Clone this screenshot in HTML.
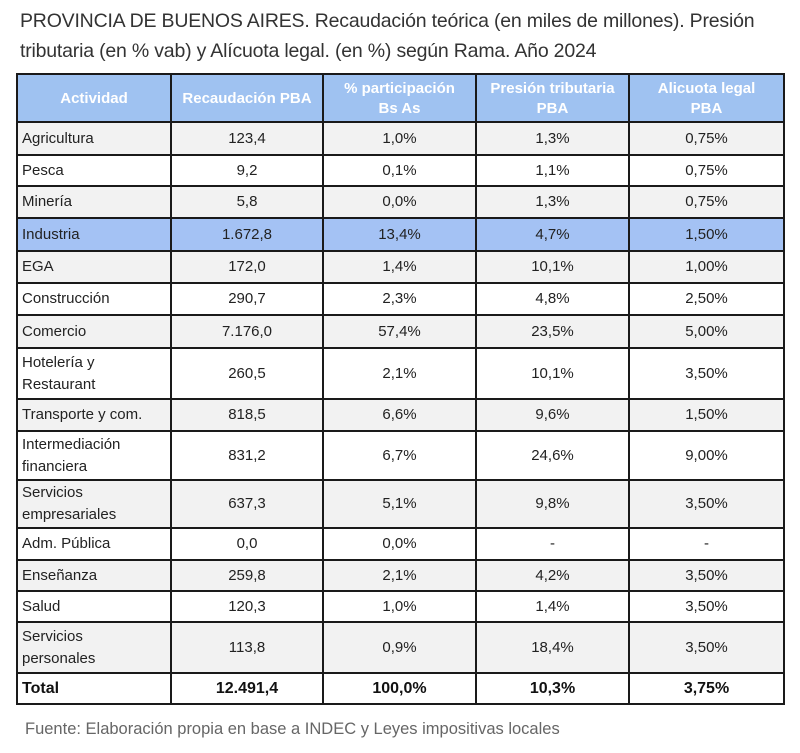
<!DOCTYPE html>
<html><head><meta charset="utf-8"><style>
body{margin:0;width:800px;height:753px;background:#fff;font-family:"Liberation Sans",sans-serif;position:relative;overflow:hidden}
#title{position:absolute;left:20px;top:6px;font-size:19.5px;line-height:30px;color:#333;letter-spacing:-0.2px}
table{position:absolute;left:16px;top:73px;border-collapse:collapse;table-layout:fixed;width:767px}
td,th{border:2px solid #1a1a1a;font-size:15px;color:#222;text-align:center;padding:0 4px;line-height:22px}
th{background:#9fc2f1;color:#fff;font-weight:bold;height:44px;padding:2px 4px 0;line-height:20px}
td.l{text-align:left;padding-left:4px}
tr.g td{background:#f2f2f2}
tr.b td{background:#a4c2f4}
tr.t td{font-weight:bold;font-size:16px;color:#111}
#src{position:absolute;left:25px;top:720px;font-size:16.5px;color:#666}
</style></head><body>
<div id="title">PROVINCIA DE BUENOS AIRES. Recaudación teórica (en miles de millones). Presión<br>tributaria (en % vab) y Alícuota legal. (en %) según Rama. Año 2024</div>
<table>
<colgroup><col style="width:154px"><col style="width:152px"><col style="width:153px"><col style="width:153px"><col style="width:155px"></colgroup>
<tr><th>Actividad</th><th>Recaudación PBA</th><th>% participación<br>Bs As</th><th>Presión tributaria<br>PBA</th><th>Alicuota legal<br>PBA</th></tr>
<tr class="g" style="height:33px"><td class="l">Agricultura</td><td>123,4</td><td>1,0%</td><td>1,3%</td><td>0,75%</td></tr>
<tr style="height:31px"><td class="l">Pesca</td><td>9,2</td><td>0,1%</td><td>1,1%</td><td>0,75%</td></tr>
<tr class="g" style="height:32px"><td class="l">Minería</td><td>5,8</td><td>0,0%</td><td>1,3%</td><td>0,75%</td></tr>
<tr class="b" style="height:33px"><td class="l">Industria</td><td>1.672,8</td><td>13,4%</td><td>4,7%</td><td>1,50%</td></tr>
<tr class="g" style="height:32px"><td class="l">EGA</td><td>172,0</td><td>1,4%</td><td>10,1%</td><td>1,00%</td></tr>
<tr style="height:32px"><td class="l">Construcción</td><td>290,7</td><td>2,3%</td><td>4,8%</td><td>2,50%</td></tr>
<tr class="g" style="height:33px"><td class="l">Comercio</td><td>7.176,0</td><td>57,4%</td><td>23,5%</td><td>5,00%</td></tr>
<tr style="height:51px"><td class="l">Hotelería y<br>Restaurant</td><td>260,5</td><td>2,1%</td><td>10,1%</td><td>3,50%</td></tr>
<tr class="g" style="height:32px"><td class="l">Transporte y com.</td><td>818,5</td><td>6,6%</td><td>9,6%</td><td>1,50%</td></tr>
<tr style="height:49px"><td class="l">Intermediación<br>financiera</td><td>831,2</td><td>6,7%</td><td>24,6%</td><td>9,00%</td></tr>
<tr class="g" style="height:48px"><td class="l">Servicios<br>empresariales</td><td>637,3</td><td>5,1%</td><td>9,8%</td><td>3,50%</td></tr>
<tr style="height:32px"><td class="l">Adm. Pública</td><td>0,0</td><td>0,0%</td><td>-</td><td>-</td></tr>
<tr class="g" style="height:31px"><td class="l">Enseñanza</td><td>259,8</td><td>2,1%</td><td>4,2%</td><td>3,50%</td></tr>
<tr style="height:31px"><td class="l">Salud</td><td>120,3</td><td>1,0%</td><td>1,4%</td><td>3,50%</td></tr>
<tr class="g" style="height:51px"><td class="l">Servicios<br>personales</td><td>113,8</td><td>0,9%</td><td>18,4%</td><td>3,50%</td></tr>
<tr class="t" style="height:31px"><td class="l">Total</td><td>12.491,4</td><td>100,0%</td><td>10,3%</td><td>3,75%</td></tr>
</table>
<div id="src">Fuente: Elaboración propia en base a INDEC y Leyes impositivas locales</div>
</body></html>
